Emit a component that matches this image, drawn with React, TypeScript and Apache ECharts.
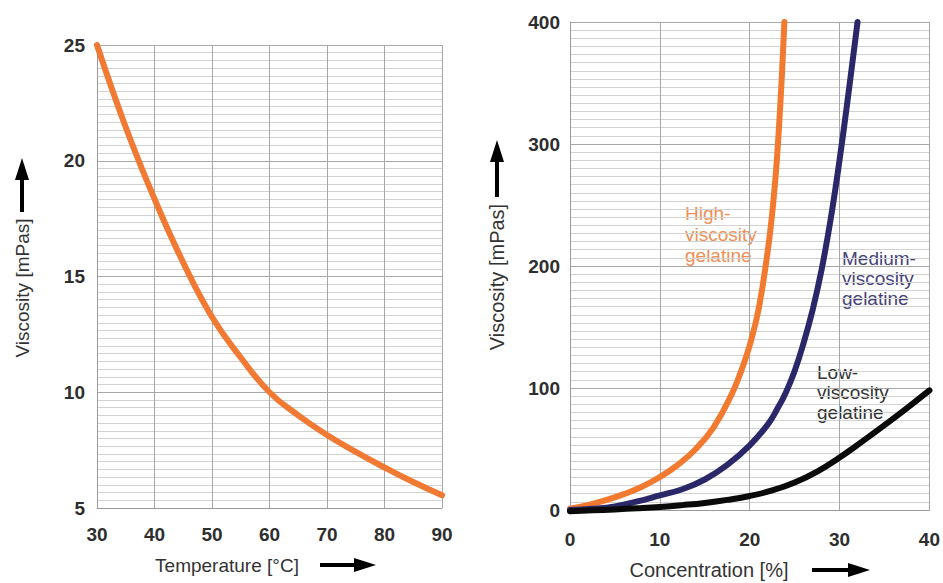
import React, { useEffect, useRef } from "react";
import * as echarts from "echarts";

// Left chart: viscosity vs temperature
const tempC = [30, 35, 40, 45, 50, 55, 60, 65, 70, 75, 80, 85, 90];
const viscosityByTemp = [25, 21.45, 18.35, 15.6, 13.25, 11.5, 10.0, 9.0, 8.15, 7.42, 6.75, 6.12, 5.55];

// Right chart: viscosity vs concentration
const concHigh = [0, 2, 4, 6, 8, 10, 12, 14, 16, 18, 19, 20, 21, 22, 22.5, 23, 23.5, 23.86];
const viscHigh = [1, 4, 8, 13, 19, 27, 37, 50, 68, 95, 113, 135, 165, 212, 243, 285, 345, 400];
const concMedium = [0, 2.5, 5, 7.5, 10, 12.5, 15, 17.5, 20, 22, 23, 24, 25, 26, 27, 28, 29, 30, 31, 32];
const viscMedium = [0, 1, 3, 7, 12, 17, 25, 37, 53, 70, 82, 96, 114, 137, 164, 197, 238, 287, 342, 400];
const concLow = [0, 2.5, 5, 7.5, 10, 12.5, 15, 17.5, 20, 22.5, 25, 27.5, 30, 32.5, 35, 37.5, 40];
const viscLow = [-1, -0.3, 0.5, 1.4, 2.5, 4, 5.8, 8.3, 11.5, 16, 22.5, 31.5, 43, 56, 69.5, 83.5, 98];

const leftXTicks = { min: 30, max: 90, interval: 10 };
const leftYTicks = { min: 5, max: 25, interval: 5 };
const rightXTicks = { min: 0, max: 40, interval: 10 };
const rightYTicks = { min: 0, max: 400, interval: 100 };

const labelsText = {
  xLeft: "Temperature [°C]",
  xRight: "Concentration [%]",
  y: "Viscosity [mPas]",
  high: "High-\nviscosity\ngelatine",
  medium: "Medium-\nviscosity\ngelatine",
  low: "Low-\nviscosity\ngelatine",
};

const pairs = (xs: number[], ys: number[]) => xs.map((x, i) => [x, ys[i]]);

const TICK_FONT = {
  color: "#2e2e2e",
  fontFamily: "Liberation Sans, Arial, sans-serif",
  fontWeight: "bold" as const,
  fontSize: 19,
};
const TEXT_FONT = "Liberation Sans, Arial, sans-serif";

function makeXAxis(gridIndex: number, t: { min: number; max: number; interval: number }, margin: number) {
  return {
    gridIndex,
    type: "value",
    min: t.min,
    max: t.max,
    interval: t.interval,
    axisLine: { show: true, onZero: false, lineStyle: { color: "#9a9a9a", width: 1 } },
    axisTick: { show: false },
    axisLabel: { ...TICK_FONT, margin },
    splitLine: { show: true, lineStyle: { color: "#a8a8a8", width: 1 } },
  };
}

function makeYAxis(gridIndex: number, t: { min: number; max: number; interval: number }, margin: number) {
  return {
    gridIndex,
    type: "value",
    min: t.min,
    max: t.max,
    interval: t.interval,
    axisLine: { show: true, onZero: false, lineStyle: { color: "#9a9a9a", width: 1 } },
    axisTick: { show: false },
    axisLabel: { ...TICK_FONT, margin },
    splitLine: { show: true, lineStyle: { color: "#a8a8a8", width: 1 } },
    minorTick: { show: false, splitNumber: 15 },
    minorSplitLine: { show: true, lineStyle: { color: "#d2d2d2", width: 1 } },
  };
}

function hArrow(x0: number, x1: number, y: number) {
  return [
    { type: "line", shape: { x1: x0, y1: y, x2: x1 - 18, y2: y }, style: { stroke: "#000", lineWidth: 4 } },
    { type: "polygon", shape: { points: [[x1 - 22, y - 7], [x1, y], [x1 - 22, y + 7]] }, style: { fill: "#000" } },
  ];
}

function vArrow(x: number, y0: number, y1: number) {
  return [
    { type: "line", shape: { x1: x, y1: y0, x2: x, y2: y1 + 18 }, style: { stroke: "#000", lineWidth: 4 } },
    { type: "polygon", shape: { points: [[x - 7, y1 + 22], [x, y1], [x + 7, y1 + 22]] }, style: { fill: "#000" } },
  ];
}

function curve(xIdx: number, xs: number[], ys: number[], color: string) {
  return {
    type: "line",
    xAxisIndex: xIdx,
    yAxisIndex: xIdx,
    data: pairs(xs, ys),
    smooth: 0.45,
    showSymbol: false,
    clip: false,
    lineStyle: { color, width: 6, cap: "round", join: "round" },
  };
}

export default function App() {
  const ref = useRef<HTMLDivElement>(null);
  useEffect(() => {
    if (!ref.current) return;
    const chart = echarts.init(ref.current, undefined, { renderer: "svg" });
    const option = {
      animation: false,
      backgroundColor: "#ffffff",
      grid: [
        { left: 97, top: 45, width: 345, height: 463 },
        { left: 570, top: 22, width: 363, height: 488 },
      ],
      xAxis: [makeXAxis(0, leftXTicks, 17), makeXAxis(1, rightXTicks, 20)],
      yAxis: [makeYAxis(0, leftYTicks, 12), makeYAxis(1, rightYTicks, 10)],
      series: [
        curve(0, tempC, viscosityByTemp, "#f07a34"),
        curve(1, concHigh, viscHigh, "#f27a30"),
        curve(1, concMedium, viscMedium, "#2a2868"),
        curve(1, concLow, viscLow, "#0a0a0a"),
      ],
      graphic: [
        {
          type: "text",
          x: 227,
          y: 565,
          style: { text: labelsText.xLeft, fill: "#333", font: `19px ${TEXT_FONT}`, align: "center", verticalAlign: "middle" },
        },
        {
          type: "text",
          x: 709,
          y: 570,
          style: { text: labelsText.xRight, fill: "#333", font: `20px ${TEXT_FONT}`, align: "center", verticalAlign: "middle" },
        },
        {
          type: "text",
          x: 22,
          y: 288,
          rotation: Math.PI / 2,
          style: { text: labelsText.y, fill: "#333", font: `19px ${TEXT_FONT}`, align: "center", verticalAlign: "middle" },
        },
        {
          type: "text",
          x: 497,
          y: 277,
          rotation: Math.PI / 2,
          style: { text: labelsText.y, fill: "#333", font: `20px ${TEXT_FONT}`, align: "center", verticalAlign: "middle" },
        },
        {
          type: "text",
          x: 685,
          y: 203,
          style: { text: labelsText.high, fill: "#f08e55", font: `19px ${TEXT_FONT}`, lineHeight: 21, align: "left", verticalAlign: "top" },
        },
        {
          type: "text",
          x: 842,
          y: 248,
          style: { text: labelsText.medium, fill: "#45427a", font: `19px ${TEXT_FONT}`, lineHeight: 20, align: "left", verticalAlign: "top" },
        },
        {
          type: "text",
          x: 817,
          y: 362,
          style: { text: labelsText.low, fill: "#333", font: `19px ${TEXT_FONT}`, lineHeight: 20, align: "left", verticalAlign: "top" },
        },
        ...hArrow(320, 376, 565),
        ...hArrow(812, 870, 570),
        ...vArrow(22, 212, 158),
        ...vArrow(497, 197, 140),
      ],
    };
    chart.setOption(option as any);
    return () => chart.dispose();
  }, []);
  return (
    <div
      ref={ref}
      style={{ position: "fixed", left: 0, top: 0, width: 943, height: 583, background: "#fff" }}
    />
  );
}
